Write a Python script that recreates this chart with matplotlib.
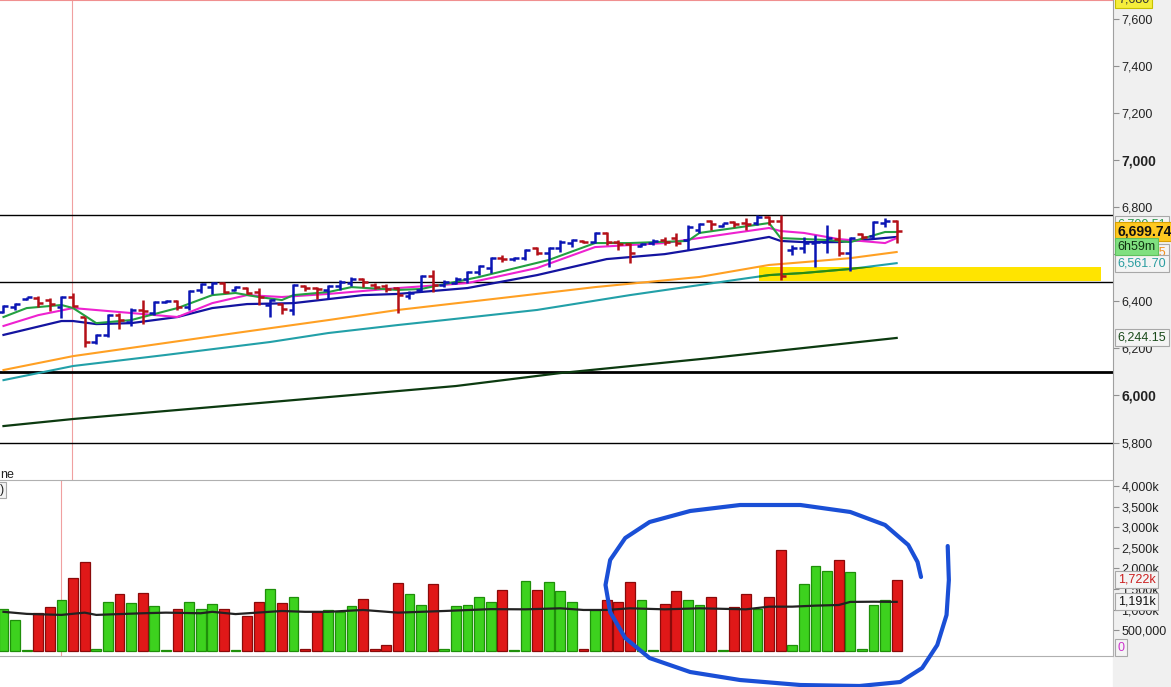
import numpy as np
import matplotlib.pyplot as plt
from matplotlib.patches import Rectangle

plt.rcParams['font.family'] = ['Liberation Sans', 'DejaVu Sans']

# daily OHLC, 78 sessions
opens = [6354, 6374, 6409, 6414, 6405, 6377, 6419, 6332, 6228, 6257,
         6341, 6313, 6363, 6349, 6398, 6402, 6377, 6448, 6459, 6479,
         6448, 6457, 6440, 6384, 6388, 6363, 6465, 6457, 6448, 6465,
         6476, 6493, 6469, 6465, 6455, 6422, 6448, 6507, 6469, 6479,
         6493, 6525, 6540, 6582, 6578, 6582, 6625, 6603, 6625, 6646,
         6657, 6653, 6691, 6653, 6642, 6634, 6646, 6660, 6667, 6660,
         6702, 6742, 6719, 6738, 6733, 6731, 6759, 6742, 6617, 6625,
         6648, 6653, 6663, 6603, 6684, 6677, 6731, 6742]
highs = [6384, 6391, 6418, 6422, 6414, 6422, 6435, 6334, 6261, 6344,
         6349, 6370, 6405, 6402, 6405, 6405, 6448, 6479, 6483, 6483,
         6465, 6459, 6455, 6409, 6394, 6473, 6469, 6459, 6469, 6490,
         6504, 6497, 6476, 6473, 6459, 6443, 6511, 6533, 6490, 6502,
         6530, 6554, 6589, 6596, 6589, 6620, 6631, 6631, 6660, 6663,
         6660, 6695, 6695, 6660, 6646, 6647, 6663, 6674, 6688, 6724,
         6731, 6745, 6733, 6742, 6752, 6766, 6762, 6766, 6639, 6674,
         6681, 6724, 6705, 6674, 6688, 6742, 6752, 6745]
lows = [6350, 6363, 6405, 6377, 6358, 6329, 6375, 6204, 6218, 6249,
        6281, 6295, 6303, 6341, 6391, 6363, 6363, 6434, 6431, 6436,
        6445, 6431, 6384, 6334, 6346, 6341, 6445, 6408, 6408, 6448,
        6465, 6459, 6451, 6440, 6351, 6409, 6440, 6440, 6462, 6473,
        6479, 6511, 6518, 6568, 6572, 6575, 6596, 6547, 6610, 6631,
        6648, 6646, 6639, 6617, 6561, 6630, 6639, 6639, 6634, 6617,
        6691, 6702, 6716, 6716, 6702, 6724, 6724, 6490, 6596, 6603,
        6547, 6603, 6592, 6528, 6663, 6667, 6716, 6646]
closes = [6380, 6388, 6416, 6394, 6388, 6419, 6380, 6228, 6257, 6341,
          6320, 6363, 6360, 6398, 6402, 6374, 6445, 6473, 6479, 6440,
          6459, 6434, 6419, 6406, 6366, 6469, 6455, 6451, 6465, 6483,
          6493, 6483, 6459, 6451, 6426, 6435, 6507, 6469, 6483, 6493,
          6525, 6549, 6582, 6578, 6582, 6617, 6606, 6627, 6653, 6660,
          6653, 6691, 6653, 6643, 6603, 6643, 6657, 6653, 6648, 6716,
          6728, 6728, 6731, 6728, 6728, 6759, 6742, 6507, 6627, 6648,
          6653, 6667, 6603, 6667, 6671, 6738, 6742, 6699.74]

# volume in thousands, g = up bar, r = down bar
volume = [1010, 750, 30, 910, 1070, 1240, 1760, 2150, 50, 1180,
          1370, 1160, 1400, 1080, 30, 1030, 1200, 1030, 1130, 1030,
          30, 840, 1200, 1500, 1160, 1300, 40, 940, 990, 940,
          1080, 1250, 50, 140, 1640, 1370, 1110, 1620, 40, 1080,
          1110, 1300, 1200, 1470, 20, 1690, 1470, 1670, 1450, 1180,
          50, 990, 1230, 1180, 1670, 1230, 20, 1130, 1450, 1230,
          1110, 1300, 20, 1060, 1370, 1010, 1300, 2440, 140, 1620,
          2050, 1930, 2200, 1910, 40, 1110, 1230, 1722]
vol_dir = ('gggrrgrrggrgrggrgggrgrrgrgrrgggrrrrggrgggggrggrgggrgrrrggrrggrgrrgrrggggrggggr')

# volume average line (bar index, thousands)
vavg_i = [0, 2, 5, 7, 8, 12, 14, 17, 18, 20, 24, 26, 28, 31, 34, 38, 42, 45,
          48, 50, 52, 54, 57, 60, 64, 66, 68, 70, 72, 73, 75, 77]
vavg_v = [950, 900, 875, 930, 875, 915, 930, 915, 950, 895, 970, 950, 950,
          995, 930, 970, 1015, 1010, 1035, 995, 995, 1035, 1010, 1035, 1010,
          1075, 1075, 1100, 1115, 1190, 1195, 1191]

# moving averages (bar index, price)
ma_green_i = [0, 2, 5, 6, 8, 11, 15, 18, 20, 22, 24, 25, 28, 30, 34, 36, 41,
              47, 51, 54, 59, 60, 63, 66, 67, 71, 73, 76, 77]
ma_green_v = [6333, 6371, 6384, 6371, 6307, 6320, 6371, 6426, 6435, 6418,
              6405, 6426, 6439, 6460, 6448, 6452, 6503, 6575, 6647, 6647,
              6656, 6690, 6711, 6732, 6668, 6660, 6651, 6694, 6694]
ma_pink_i = [0, 3, 6, 11, 15, 18, 21, 24, 28, 34, 40, 46, 51, 57, 63, 66, 67,
             69, 72, 76, 77]
ma_pink_v = [6295, 6341, 6371, 6350, 6333, 6392, 6426, 6418, 6431, 6456, 6477,
             6541, 6630, 6647, 6690, 6711, 6698, 6690, 6664, 6647, 6668]
ma_navy_i = [0, 5, 6, 8, 11, 15, 18, 21, 25, 28, 31, 34, 40, 46, 52, 57, 63,
             66, 67, 69, 72, 77]
ma_navy_v = [6257, 6316, 6316, 6303, 6307, 6333, 6371, 6388, 6392, 6409, 6426,
             6431, 6456, 6511, 6579, 6600, 6647, 6673, 6656, 6651, 6651, 6673]
ma_orange_i = [0, 6, 14, 20, 28, 34, 43, 51, 60, 66, 69, 73, 77]
ma_orange_v = [6108, 6167, 6223, 6265, 6320, 6363, 6414, 6460, 6503, 6554,
               6566, 6583, 6609]
ma_teal_i = [0, 6, 14, 23, 28, 34, 38, 46, 54, 63, 66, 69, 73, 77]
ma_teal_v = [6065, 6125, 6172, 6227, 6265, 6299, 6320, 6363, 6426, 6490,
             6511, 6520, 6537, 6561.7]
ma_long_i = [0, 6, 14, 24, 39, 48, 61, 77]
ma_long_v = [5870, 5900, 5934, 5976, 6040, 6095, 6159, 6244.15]

hlines_price = [6766, 6482, 6100, 5800]
hlines_width = [1.0, 1.0, 2.0, 1.0]

# freehand circle drawn on the volume pane (bar index, thousands)
circle_i = [81.4, 81.5, 81.3, 80.5, 79.2, 77.3, 73.8, 68.7, 63.5, 59.2, 55.7,
            53.6, 52.3, 51.9, 52.3, 53.6, 55.7, 59.2, 63.5, 68.7, 73.0, 76.0,
            78.0, 78.8, 79.1]
circle_v = [2545, 1721, 873, 145, -412, -752, -848, -824, -703, -509, -170,
            315, 945, 1600, 2206, 2739, 3127, 3394, 3539, 3539, 3370, 3055,
            2570, 2158, 1794]

W, H = 1171, 687
fig = plt.figure(figsize=(W / 100, H / 100), dpi=100)
fig.patches.append(Rectangle((1113 / W, 0), 1, 1, transform=fig.transFigure,
                             color='#f0f0f0', zorder=-5))

ax = fig.add_axes([0, 207 / H, 1113 / W, 480 / H])
axv = fig.add_axes([0, 31 / H, 1113 / W, 176 / H])

xmin, xmax = -0.3, 95.65
n = len(opens)
idx = np.arange(n)

# ---- price pane
ax.set_xlim(xmin, xmax)
ax.set_ylim(5641, 7679)
for yv, lw in zip(hlines_price, hlines_width):
    ax.axhline(yv, color='black', lw=lw, zorder=2)
ax.axhline(7677, color='#f09090', lw=0.8, zorder=2)
ax.axvline(5.9, color='#f0a0a0', lw=0.8, zorder=1)

hl = Rectangle((65.1, 6486), 29.5, 59, color='#ffe400', lw=0, zorder=1)
ax.add_patch(hl)

ax.plot(ma_long_i, ma_long_v, color='#0c3a10', lw=1.6, zorder=3)
ax.plot(ma_teal_i, ma_teal_v, color='#22a0a8', lw=1.5, zorder=3)
tl, = ax.plot(ma_teal_i, ma_teal_v, color='#2f8c0a', lw=1.5, zorder=3.1)
tl.set_clip_path(hl)
ax.plot(ma_orange_i, ma_orange_v, color='#ffa023', lw=1.5, zorder=3)
ax.plot(ma_navy_i, ma_navy_v, color='#1414a0', lw=1.6, zorder=3)
ax.plot(ma_pink_i, ma_pink_v, color='#ee22d0', lw=1.5, zorder=3)
ax.plot(ma_green_i, ma_green_v, color='#23a040', lw=1.5, zorder=3)

up = np.array(closes) >= np.array(opens)
pcol = np.where(up, '#0b15b4', '#b41018')
ax.vlines(idx, lows, highs, colors=pcol, lw=1.8, zorder=5)
ax.hlines(opens, idx - 0.42, idx, colors=pcol, lw=1.8, zorder=5)
ax.hlines(closes, idx, idx + 0.42, colors=pcol, lw=1.8, zorder=5)

ax.set_xticks([])
ax.yaxis.tick_right()
pt = list(range(5800, 7601, 200))
ax.set_yticks(pt)
ax.set_yticklabels([f'{v:,}' for v in pt])
ax.tick_params(axis='y', length=4, color='#909090', pad=2, labelsize=9,
               labelcolor='#222222')
for lab, v in zip(ax.get_yticklabels(), pt):
    if v in (6000, 7000):
        lab.set_fontweight('bold')
        lab.set_fontsize(10)
for s in ['top', 'left', 'bottom']:
    ax.spines[s].set_visible(False)
ax.spines['right'].set_color('#a0a0a0')


def tag(a, y, text, tc, fc='#f4f4f4', ec='#a8a8a8', fs=9, bold=False, z=6):
    a.annotate(text, xy=(1, y), xycoords=('axes fraction', 'data'),
               xytext=(3.5, 0), textcoords='offset points', ha='left',
               va='center', fontsize=fs, color=tc,
               fontweight='bold' if bold else 'normal',
               bbox=dict(boxstyle='square,pad=0.2', fc=fc, ec=ec, lw=0.8),
               annotation_clip=False, zorder=z)


tag(ax, 7680, '7,680', '#333333', fc='#f5ee3c', ec='#c8c000')
tag(ax, 6724, '6,700.51', '#2e9b50', z=6)
tag(ax, 6609, '6,609.05', '#f09020', z=6)
tag(ax, 6697, '6,699.74', '#111111', fc='#ffc820', ec='#d8a000', fs=10,
    bold=True, z=8)
tag(ax, 6632, '6h59m', '#113311', fc='#80e080', ec='#60c060', z=9)
tag(ax, 6561.7, '6,561.70', '#2a9da0', z=6)
tag(ax, 6244.15, '6,244.15', '#1a4a1a', z=6)

# ---- volume pane
axv.set_xlim(xmin, xmax)
axv.set_ylim(-121, 4145)
vc = ['#3dd21e' if d == 'g' else '#e01818' for d in vol_dir]
ve = ['#1f8f0a' if d == 'g' else '#8a0a0a' for d in vol_dir]
axv.bar(idx, volume, width=0.85, color=vc, edgecolor=ve, lw=0.9, zorder=2)
axv.plot(vavg_i, vavg_v, color='#222222', lw=1.6, zorder=3)
axv.axvline(4.96, color='#f0a0a0', lw=0.8, zorder=1)
axv.plot(circle_i, circle_v, color='#1a4fd6', lw=3, clip_on=False,
         solid_capstyle='round', solid_joinstyle='round', zorder=10)

axv.set_xticks([])
axv.yaxis.tick_right()
vt = list(range(500, 4001, 500))
axv.set_yticks(vt)
axv.set_yticklabels(['500,000' if v == 500 else f'{v:,}k' for v in vt])
axv.tick_params(axis='y', length=4, color='#909090', pad=2, labelsize=9,
                labelcolor='#222222')
axv.spines['left'].set_visible(False)
for s in ['top', 'bottom', 'right']:
    axv.spines[s].set_color('#b0b0b0')
tag(axv, 1722, '1,722k', '#cc2020', z=7)
tag(axv, 1191, '1,191k', '#111111', z=7)
tag(axv, 80, '0', '#cc33cc', z=7)

fig.text(0, 1 - 475 / H, 'ne', fontsize=9, va='center', ha='left',
         color='#222222')
fig.text(0, 1 - 490 / H, ')', fontsize=9, va='center', ha='left',
         color='#222222',
         bbox=dict(boxstyle='square,pad=0.15', fc='#f4f4f4', ec='#a8a8a8',
                   lw=0.8))

fig.savefig('out.png', dpi=100)
